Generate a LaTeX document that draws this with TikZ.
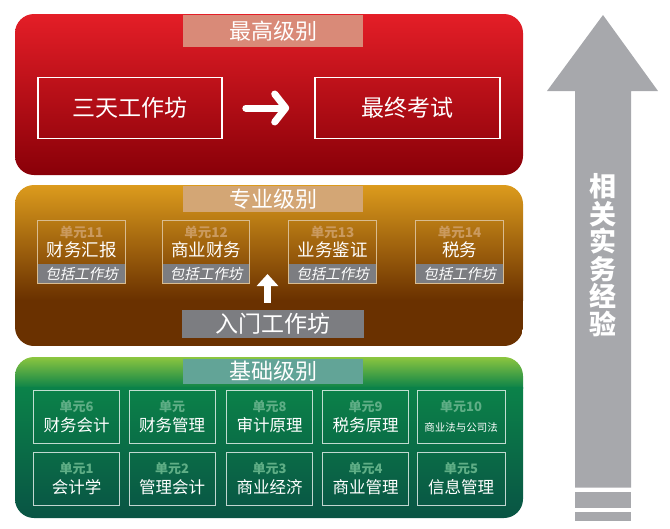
\documentclass[tikz,border=0pt]{standalone}
\usepackage{fontspec}
\setmainfont{Noto Sans CJK SC}
\newfontfamily\slantcjk{Noto Sans CJK SC}[FakeSlant=0.2]
\usetikzlibrary{arrows.meta}

\definecolor{redtop}{HTML}{E41E27}
\definecolor{redbot}{HTML}{890008}
\definecolor{goldtop}{HTML}{DC9B1D}
\definecolor{browndark}{HTML}{6A3100}
\definecolor{greentop}{HTML}{8CC63F}
\definecolor{greenmid}{HTML}{0B8249}
\definecolor{greenbot}{HTML}{095444}
\definecolor{salmon}{HTML}{D98A78}
\definecolor{tan}{HTML}{D3A675}
\definecolor{teal}{HTML}{62A497}
\definecolor{bandgray}{HTML}{7C7D81}
\definecolor{tanline}{HTML}{D9BC90}
\definecolor{tanlabel}{HTML}{CB9A5E}
\definecolor{greenlabel}{HTML}{5FAE86}
\definecolor{arrowgray}{HTML}{A7A8AC}

\begin{document}
\begin{tikzpicture}[x=1pt,y=-1pt,
  panel/.style={rounded corners=19pt},
  title/.style={minimum width=180pt,inner sep=0pt,text=white,font=\fontsize{22}{24}\selectfont},
  redbox/.style={draw=white,line width=1.6pt,minimum height=61pt,inner sep=0pt,text=white,font=\fontsize{23}{26}\selectfont},
  unittop/.style={minimum width=87pt,minimum height=43pt,inner sep=0pt,align=center,text=white,font=\fontsize{17.5}{19}\selectfont},
  band/.style={fill=bandgray,minimum width=87pt,minimum height=20pt,inner sep=0pt,text=white,font=\slantcjk\fontsize{14.5}{17}\selectfont},
  unitbox/.style={draw=white,draw opacity=0.75,line width=0.9pt,minimum width=86pt,minimum height=53pt,inner sep=0pt,align=center,text=white,font=\fontsize{16.5}{20}\selectfont},
  whitearrow/.style={white,line width=7pt,line cap=round}
]
\useasboundingbox (0,0) rectangle (670,528);

% panels
\shade[panel,top color=redtop,bottom color=redbot] (15,14) rectangle (523,175);
\begin{scope}
  \clip[panel] (15,185) rectangle (523,346);
  \shade[top color=goldtop,bottom color=browndark] (15,185) rectangle (523,300);
  \fill[browndark] (15,299.5) rectangle (523,346);
\end{scope}
\begin{scope}
  \clip[panel] (15,357) rectangle (523,518);
  \shade[top color=greentop,bottom color=greenmid] (15,357) rectangle (523,388);
  \shade[top color=greenmid,bottom color=greenbot] (15,387.5) rectangle (523,518);
\end{scope}

% top level
\node[title,fill=salmon,minimum height=32pt] (t1) at (273,31) {最高级别};
\node[redbox,minimum width=184pt] (three) at (130,108) {三天工作坊};
\node[redbox,minimum width=185pt] (final) at (407.5,108) {最终考试};
\draw[whitearrow,shorten <=23pt,shorten >=25pt,-{Straight Barb[length=11pt,width=28pt,round]}] (three) -- (final);

% professional level
\node[title,fill=tan,minimum height=26pt] (t2) at (273,199) {专业级别};
\node[unittop] (u11) at (81.5,242) {{\color{tanlabel}\bfseries\fontsize{13.5}{15}\selectfont 单元11}\\财务汇报};
\node[unittop] (u12) at (206,242) {{\color{tanlabel}\bfseries\fontsize{13.5}{15}\selectfont 单元12}\\商业财务};
\node[unittop] (u13) at (332.5,242) {{\color{tanlabel}\bfseries\fontsize{13.5}{15}\selectfont 单元13}\\业务鉴证};
\node[unittop] (u14) at (459.5,242) {{\color{tanlabel}\bfseries\fontsize{13.5}{15}\selectfont 单元14}\\税务};
\node[band] (b11) at (81.5,273.5) {包括工作坊};
\node[band] (b12) at (206,273.5) {包括工作坊};
\node[band] (b13) at (332.5,273.5) {包括工作坊};
\node[band] (b14) at (459.5,273.5) {包括工作坊};
\draw[tanline,line width=0.9pt] (u11.north west) rectangle (b11.south east);
\draw[tanline,line width=0.9pt] (u12.north west) rectangle (b12.south east);
\draw[tanline,line width=0.9pt] (u13.north west) rectangle (b13.south east);
\draw[tanline,line width=0.9pt] (u14.north west) rectangle (b14.south east);
\node[title,fill=bandgray,minimum width=182pt,minimum height=28pt,font=\fontsize{23}{25}\selectfont] (entry) at (273,324) {入门工作坊};
\coordinate (uptip) at (267.5,274);
\draw[white,line width=7pt,shorten <=7pt,-{Triangle[length=12pt,width=21pt]}] (entry.north -| uptip) -- (uptip);

% foundation level
\node[title,fill=teal,minimum height=25pt] (t3) at (273,371.5) {基础级别};
\node[unitbox] (u6) at (76.5,416.5) {{\color{greenlabel}\bfseries\fontsize{13}{14}\selectfont 单元6}\\财务会计};
\node[unitbox] (u7) at (172,416.5) {{\color{greenlabel}\bfseries\fontsize{13}{14}\selectfont 单元}\\财务管理};
\node[unitbox] (u8) at (269.5,416.5) {{\color{greenlabel}\bfseries\fontsize{13}{14}\selectfont 单元8}\\审计原理};
\node[unitbox] (u9) at (365.5,416.5) {{\color{greenlabel}\bfseries\fontsize{13}{14}\selectfont 单元9}\\税务原理};
\node[unitbox,minimum width=88pt] (u10) at (461,416.5) {{\color{greenlabel}\bfseries\fontsize{13}{14}\selectfont 单元10}\\{\fontsize{10.5}{12}\selectfont 商业法与公司法}};
\node[unitbox] (u1) at (76.5,479) {{\color{greenlabel}\bfseries\fontsize{13}{14}\selectfont 单元1}\\会计学};
\node[unitbox] (u2) at (172,479) {{\color{greenlabel}\bfseries\fontsize{13}{14}\selectfont 单元2}\\管理会计};
\node[unitbox] (u3) at (269.5,479) {{\color{greenlabel}\bfseries\fontsize{13}{14}\selectfont 单元3}\\商业经济};
\node[unitbox] (u4) at (365.5,479) {{\color{greenlabel}\bfseries\fontsize{13}{14}\selectfont 单元4}\\商业管理};
\node[unitbox,minimum width=88pt] (u5) at (461,479) {{\color{greenlabel}\bfseries\fontsize{13}{14}\selectfont 单元5}\\信息管理};

% experience arrow
\fill[arrowgray] (575,487.5) -- (575,91) -- (547,91) -- (603,15) -- (658,91) -- (631,91) -- (631,487.5) -- cycle;
\fill[arrowgray] (575,492) rectangle (631,508);
\fill[arrowgray] (575,512) rectangle (631,521);
\node[text=white,align=center,inner sep=0pt,font=\bfseries\fontsize{27}{27.5}\selectfont] (exp) at (603,255) {相\\关\\实\\务\\经\\验};
\end{tikzpicture}
\end{document}
